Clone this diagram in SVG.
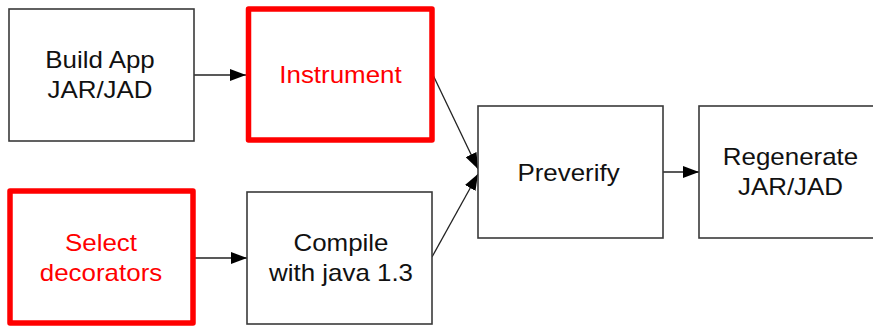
<svg xmlns="http://www.w3.org/2000/svg" width="873" height="326" viewBox="0 0 873 326">
  <style>
    .box { fill: #ffffff; stroke: #3a3a3a; stroke-width: 1.6; }
    .hot { fill: #ffffff; stroke: #ff0000; stroke-width: 5.5; stroke-linejoin: round; }
    .lbl { font-family: "Liberation Sans", Arial, sans-serif; font-size: 23px; fill: #111111; text-anchor: middle; }
    .red { fill: #ff0000; }
    .wire { fill: none; stroke: #222222; stroke-width: 1.3; }
  </style>
  <defs>
    <marker id="arrow" viewBox="0 0 16 12" refX="16" refY="6" markerWidth="16" markerHeight="12" markerUnits="userSpaceOnUse" orient="auto">
      <path d="M0,0 L16,6 L0,12 z" fill="#000000"/>
    </marker>
  </defs>
  <rect width="873" height="326" fill="#ffffff"/>

  <g id="connectors">
    <line class="wire" x1="194" y1="75" x2="246" y2="75" marker-end="url(#arrow)"/>
    <line class="wire" x1="193" y1="258" x2="247" y2="258" marker-end="url(#arrow)"/>
    <line class="wire" x1="433" y1="75" x2="478" y2="169" marker-end="url(#arrow)"/>
    <line class="wire" x1="432" y1="257" x2="478" y2="174" marker-end="url(#arrow)"/>
    <line class="wire" x1="663" y1="172" x2="699" y2="172" marker-end="url(#arrow)"/>
  </g>

  <g id="build-app">
    <rect class="box" x="9" y="9" width="185" height="132"/>
    <g transform="translate(100 0) scale(1.127 1)">
      <text class="lbl" x="0" y="68.5">Build App</text>
      <text class="lbl" x="0" y="98.5">JAR/JAD</text>
    </g>
  </g>

  <g id="instrument">
    <rect class="hot" x="248.5" y="9" width="183.5" height="131"/>
    <g transform="translate(340.5 0) scale(1.127 1)">
      <text class="lbl red" x="0" y="83">Instrument</text>
    </g>
  </g>

  <g id="select-decorators">
    <rect class="hot" x="10" y="191" width="183" height="132"/>
    <g transform="translate(101 0) scale(1.127 1)">
      <text class="lbl red" x="0" y="251.5">Select</text>
      <text class="lbl red" x="0" y="281">decorators</text>
    </g>
  </g>

  <g id="compile">
    <rect class="box" x="247" y="192" width="185" height="132"/>
    <g transform="translate(341 0) scale(1.127 1)">
      <text class="lbl" x="0" y="251.5">Compile</text>
      <text class="lbl" x="0" y="281">with java 1.3</text>
    </g>
  </g>

  <g id="preverify">
    <rect class="box" x="478" y="106" width="185" height="132"/>
    <g transform="translate(568.5 0) scale(1.127 1)">
      <text class="lbl" x="0" y="181">Preverify</text>
    </g>
  </g>

  <g id="regenerate">
    <rect class="box" x="699" y="106" width="185" height="132"/>
    <g transform="translate(790.5 0) scale(1.127 1)">
      <text class="lbl" x="0" y="165">Regenerate</text>
      <text class="lbl" x="0" y="195">JAR/JAD</text>
    </g>
  </g>
</svg>
